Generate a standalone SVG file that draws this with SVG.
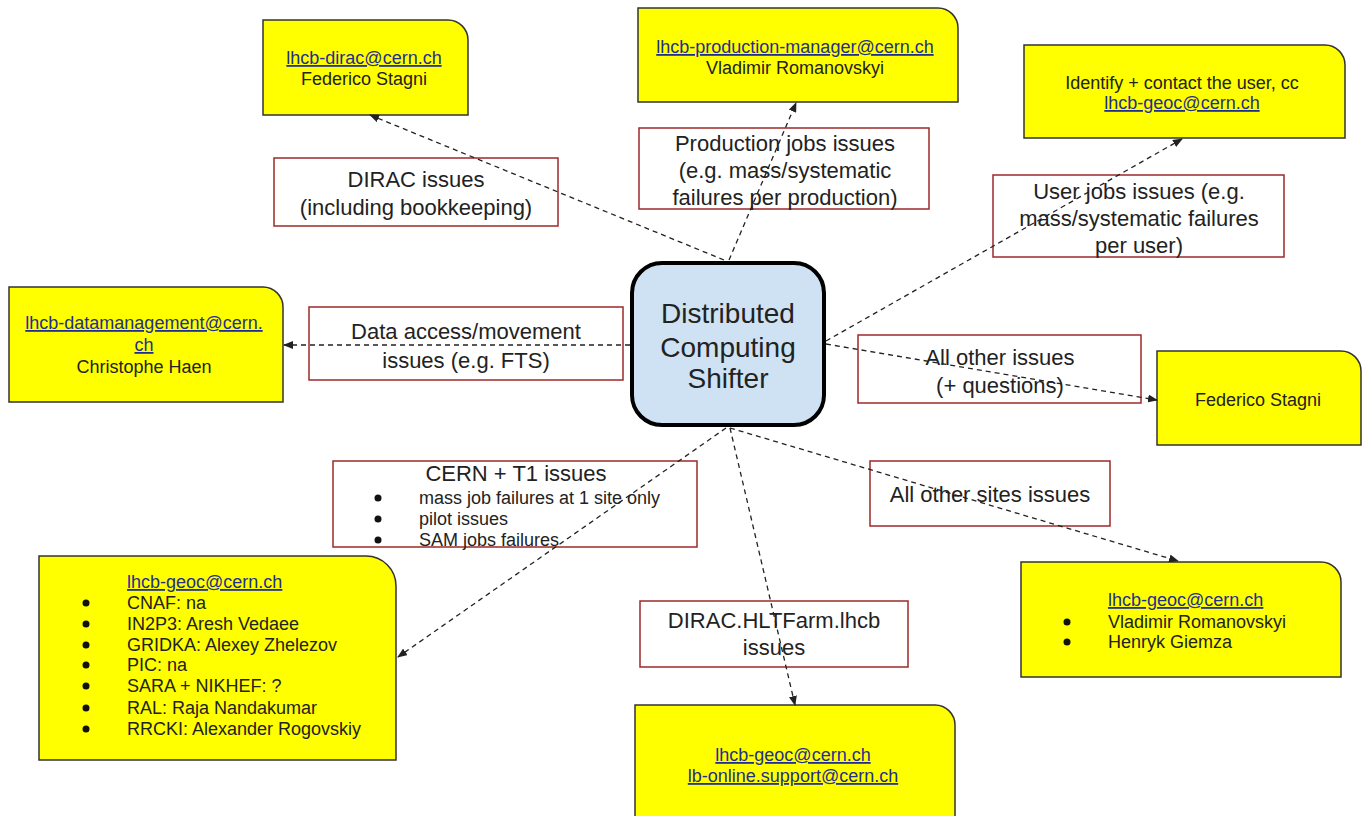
<svg xmlns="http://www.w3.org/2000/svg" width="1363" height="816" viewBox="0 0 1363 816">
<style>
.bg{fill:#ffffff}
.ybox{fill:#ffff00;stroke:#333333;stroke-width:1.5}
.lbl{fill:#ffffff;stroke:#9c2a2a;stroke-width:1.5}
.center{fill:#cfe2f3;stroke:#000000;stroke-width:4}
.t{font-family:"Liberation Sans",Arial,sans-serif;fill:#222222}
.ys{font-size:18px}
.ls{font-size:22px}
.cs{font-size:28px}
.bs{font-size:18px}
.mid{text-anchor:middle}
.link{fill:#1f2f8f;text-decoration:underline}
.bul{fill:#111111}
.conn{fill:none;stroke:#222222;stroke-width:1.3;stroke-dasharray:5,4}
</style>
<defs>
<marker id="ah" markerWidth="10" markerHeight="8" refX="9" refY="4" orient="auto" markerUnits="userSpaceOnUse">
<path d="M0,0 L10,4 L0,8 Z" fill="#222222"/>
</marker>
</defs>
<rect class="bg" x="0" y="0" width="1363" height="816"/>

<g id="label-dirac">
<rect class="lbl" x="274" y="158" width="284" height="68"/>
<text class="t ls mid" x="416" y="187">DIRAC issues</text>
<text class="t ls mid" x="416" y="215">(including bookkeeping)</text>
</g>
<g id="label-production">
<rect class="lbl" x="639" y="128" width="290" height="81"/>
<text class="t ls mid" x="785" y="151">Production jobs issues</text>
<text class="t ls mid" x="785" y="178">(e.g. mass/systematic</text>
<text class="t ls mid" x="785" y="205">failures per production)</text>
</g>
<g id="label-user">
<rect class="lbl" x="993" y="175" width="291" height="82"/>
<text class="t ls mid" x="1139" y="199">User jobs issues (e.g.</text>
<text class="t ls mid" x="1139" y="226">mass/systematic failures</text>
<text class="t ls mid" x="1139" y="253">per user)</text>
</g>
<g id="label-data">
<rect class="lbl" x="309" y="307" width="314" height="73"/>
<text class="t ls mid" x="466" y="339">Data access/movement</text>
<text class="t ls mid" x="466" y="368">issues (e.g. FTS)</text>
</g>
<g id="label-other">
<rect class="lbl" x="858" y="335" width="283" height="68"/>
<text class="t ls mid" x="1000" y="365">All other issues</text>
<text class="t ls mid" x="1000" y="393">(+ questions)</text>
</g>
<g id="label-cern">
<rect class="lbl" x="333" y="461" width="364" height="86"/>
<text class="t ls mid" x="516" y="481">CERN + T1 issues</text>
<circle class="bul" cx="378" cy="498" r="3.5"/>
<circle class="bul" cx="378" cy="519" r="3.5"/>
<circle class="bul" cx="378" cy="540" r="3.5"/>
<text class="t bs" x="419" y="504">mass job failures at 1 site only</text>
<text class="t bs" x="419" y="525">pilot issues</text>
<text class="t bs" x="419" y="546">SAM jobs failures</text>
</g>
<g id="label-sites">
<rect class="lbl" x="870" y="461" width="240" height="65"/>
<text class="t ls mid" x="990" y="502">All other sites issues</text>
</g>
<g id="label-hlt">
<rect class="lbl" x="640" y="601" width="268" height="66"/>
<text class="t ls mid" x="774" y="628">DIRAC.HLTFarm.lhcb</text>
<text class="t ls mid" x="774" y="655">issues</text>
</g>

<g id="node-dirac">
<path class="ybox" d="M263,20 H448 A20,20 0 0 1 468,40 V115 H263 Z"/>
<text class="t ys mid link" x="364" y="64">lhcb-dirac@cern.ch</text>
<text class="t ys mid" x="364" y="85">Federico Stagni</text>
</g>
<g id="node-production">
<path class="ybox" d="M638,8 H938 A20,20 0 0 1 958,28 V102 H638 Z"/>
<text class="t ys mid link" x="795" y="53">lhcb-production-manager@cern.ch</text>
<text class="t ys mid" x="795" y="74">Vladimir Romanovskyi</text>
</g>
<g id="node-user">
<path class="ybox" d="M1024,45 H1325 A20,20 0 0 1 1345,65 V138 H1024 Z"/>
<text class="t ys mid" x="1182" y="89">Identify + contact the user, cc</text>
<text class="t ys mid link" x="1182" y="109">lhcb-geoc@cern.ch</text>
</g>
<g id="node-data">
<path class="ybox" d="M9,287 H263 A20,20 0 0 1 283,307 V402 H9 Z"/>
<text class="t ys mid link" x="144" y="329">lhcb-datamanagement@cern.</text>
<text class="t ys mid link" x="144" y="351">ch</text>
<text class="t ys mid" x="144" y="373">Christophe Haen</text>
</g>
<g id="node-other">
<path class="ybox" d="M1157,351 H1341 A20,20 0 0 1 1361,371 V445 H1157 Z"/>
<text class="t ys mid" x="1258" y="406">Federico Stagni</text>
</g>
<g id="node-sites">
<path class="ybox" d="M39,556 H366 A30,30 0 0 1 396,586 V760 H39 Z"/>
<text class="t ys link" x="127" y="588">lhcb-geoc@cern.ch</text>
<circle class="bul" cx="86" cy="603" r="3.5"/>
<circle class="bul" cx="86" cy="624" r="3.5"/>
<circle class="bul" cx="86" cy="645" r="3.5"/>
<circle class="bul" cx="86" cy="665" r="3.5"/>
<circle class="bul" cx="86" cy="686" r="3.5"/>
<circle class="bul" cx="86" cy="708" r="3.5"/>
<circle class="bul" cx="86" cy="729" r="3.5"/>
<text class="t ys" x="127" y="609">CNAF: na</text>
<text class="t ys" x="127" y="630">IN2P3: Aresh Vedaee</text>
<text class="t ys" x="127" y="651">GRIDKA: Alexey Zhelezov</text>
<text class="t ys" x="127" y="671">PIC: na</text>
<text class="t ys" x="127" y="692">SARA + NIKHEF: ?</text>
<text class="t ys" x="127" y="714">RAL: Raja Nandakumar</text>
<text class="t ys" x="127" y="735">RRCKI: Alexander Rogovskiy</text>
</g>
<g id="node-geoc">
<path class="ybox" d="M1021,562 H1321 A20,20 0 0 1 1341,582 V677 H1021 Z"/>
<text class="t ys link" x="1108" y="606">lhcb-geoc@cern.ch</text>
<circle class="bul" cx="1067" cy="622" r="3.5"/>
<circle class="bul" cx="1067" cy="642" r="3.5"/>
<text class="t ys" x="1108" y="628">Vladimir Romanovskyi</text>
<text class="t ys" x="1108" y="648">Henryk Giemza</text>
</g>
<g id="node-hlt">
<path class="ybox" d="M635,705 H935 A20,20 0 0 1 955,725 V822 H635 Z"/>
<text class="t ys mid link" x="793" y="761">lhcb-geoc@cern.ch</text>
<text class="t ys mid link" x="793" y="782">lb-online.support@cern.ch</text>
</g>
<g id="node-shifter">
<rect class="center" x="632" y="263" width="192" height="162" rx="30" ry="30"/>
<text class="t cs mid" x="728" y="323">Distributed</text>
<text class="t cs mid" x="728" y="357">Computing</text>
<text class="t cs mid" x="728" y="388">Shifter</text>
</g>

<g id="connectors">
<line class="conn" x1="724" y1="260" x2="370" y2="115" marker-end="url(#ah)"/>
<line class="conn" x1="729" y1="260" x2="796" y2="103" marker-end="url(#ah)"/>
<line class="conn" x1="826" y1="341" x2="1182" y2="139" marker-end="url(#ah)"/>
<line class="conn" x1="630" y1="345" x2="284" y2="345" marker-end="url(#ah)"/>
<line class="conn" x1="826" y1="344" x2="1157" y2="400" marker-end="url(#ah)"/>
<line class="conn" x1="726" y1="428" x2="398" y2="657" marker-end="url(#ah)"/>
<line class="conn" x1="730" y1="428" x2="1178" y2="561" marker-end="url(#ah)"/>
<line class="conn" x1="730" y1="428" x2="795" y2="705" marker-end="url(#ah)"/>
</g>
</svg>
